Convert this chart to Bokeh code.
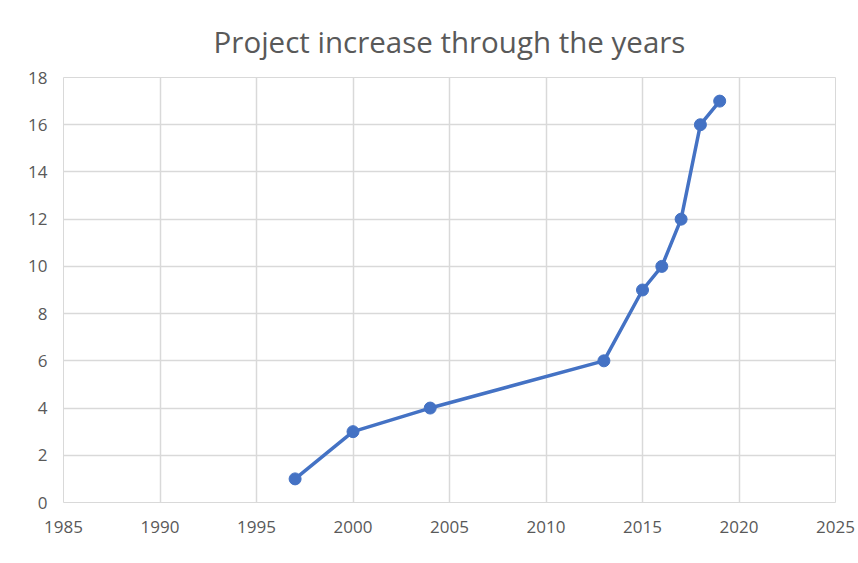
from bokeh.plotting import figure
from bokeh.models import Range1d, FixedTicker
from bokeh.embed import file_html
from bokeh.resources import INLINE

years = [1997, 2000, 2004, 2013, 2015, 2016, 2017, 2018, 2019]
projects = [1, 3, 4, 6, 9, 10, 12, 16, 17]
x_ticks = [1985, 1990, 1995, 2000, 2005, 2010, 2015, 2020, 2025]
y_ticks = [0, 2, 4, 6, 8, 10, 12, 14, 16, 18]

p = figure(width=858, height=563, output_backend="svg", toolbar_location=None,
           x_range=Range1d(1985, 2025), y_range=Range1d(0, 18),
           min_border_left=63, min_border_right=23, min_border_top=77, min_border_bottom=61)

p.title.text = "Project increase through the years"
p.title.align = "center"
p.title.text_font = "Open Sans"
p.title.text_font_size = "29.5px"
p.title.text_font_style = "normal"
p.title.text_color = "#595959"
p.title.standoff = 32

grid_color = "#d9d9d9"
p.outline_line_color = grid_color
p.xgrid.grid_line_color = grid_color
p.ygrid.grid_line_color = grid_color
p.xgrid.grid_line_width = 1.5
p.ygrid.grid_line_width = 1.5

for ax in (p.xaxis, p.yaxis):
    ax.axis_line_color = None
    ax.major_tick_line_color = None
    ax.minor_tick_line_color = None
    ax.major_label_text_font = "Open Sans"
    ax.major_label_text_font_size = "17px"
    ax.major_label_text_color = "#595959"
    ax.major_label_standoff = 10

p.xaxis.major_label_standoff = 12

p.xaxis.ticker = FixedTicker(ticks=x_ticks)
p.yaxis.ticker = FixedTicker(ticks=y_ticks)

p.line(years, projects, line_color="#4472C4", line_width=3.5)
p.scatter(years, projects, size=12, fill_color="#4472C4", line_color="#4472C4")

open("out.html", "w").write(file_html(p, INLINE))
